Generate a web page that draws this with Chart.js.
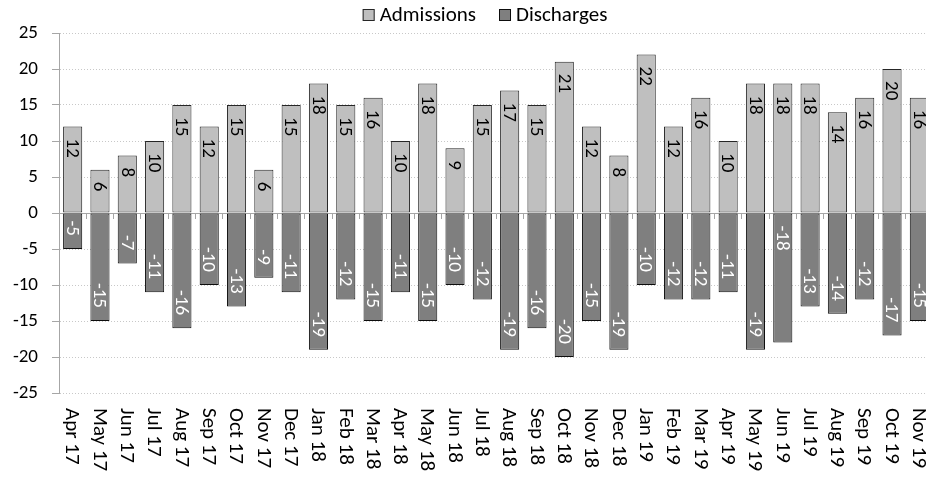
<!DOCTYPE html>
<html>
<head>
<meta charset="utf-8">
<script src="https://cdn.jsdelivr.net/npm/chart.js@4.4.1/dist/chart.umd.min.js"></script>
<style>
  html, body { margin: 0; padding: 0; background: #fff; overflow: hidden; }
  #wrap { width: 940px; height: 479px; }
</style>
</head>
<body>
<div id="wrap"><canvas id="flow-chart" width="940" height="479"></canvas></div>
<script>
// months shown along the bottom
var months = ["Apr 17", "May 17", "Jun 17", "Jul 17", "Aug 17", "Sep 17", "Oct 17", "Nov 17", "Dec 17",
    "Jan 18", "Feb 18", "Mar 18", "Apr 18", "May 18", "Jun 18", "Jul 18", "Aug 18", "Sep 18", "Oct 18", "Nov 18", "Dec 18",
    "Jan 19", "Feb 19", "Mar 19", "Apr 19", "May 19", "Jun 19", "Jul 19", "Aug 19", "Sep 19", "Oct 19", "Nov 19"];

var admissions = [12, 6, 8, 10, 15, 12, 15, 6, 15, 18, 15, 16, 10, 18, 9, 15, 17, 15, 21, 12, 8, 22, 12, 16, 10, 18, 18, 18, 14, 16, 20, 16];
var discharges = [-5, -15, -7, -11, -16, -10, -13, -9, -11, -19, -12, -15, -11, -15, -10, -12, -19, -16, -20, -15, -19, -10, -12, -12, -11, -19, -18, -13, -14, -12, -17, -15];

// y axis ticks
var yMin = -25, yMax = 25, yStep = 5;

// discharge labels that sit next to the zero line instead of the bar end
var baseLabelMonths = ["Jun 19"];

var FONT = "Carlito, Calibri, Lato, sans-serif";
var NUM_SIZE = 19;   // digits (ticks + bar values)
var TEXT_SIZE = 21;  // words (legend + months)

// value labels, rotated to read downwards, inside the end of every bar
var barLabels = {
    id: 'barLabels',
    afterDatasetsDraw: function (chart) {
        var ctx = chart.ctx;
        ctx.save();
        ctx.font = NUM_SIZE + "px " + FONT;
        ctx.textBaseline = "middle";
        chart.data.datasets.forEach(function (ds, di) {
            var meta = chart.getDatasetMeta(di);
            meta.data.forEach(function (bar, i) {
                var v = ds.data[i];
                ctx.save();
                ctx.fillStyle = ds.labelColor;
                if (v >= 0) {
                    ctx.translate(bar.x, bar.y + 12);
                    ctx.rotate(Math.PI / 2);
                    ctx.textAlign = "left";
                } else if (baseLabelMonths.indexOf(chart.data.labels[i]) >= 0) {
                    ctx.translate(bar.x, bar.base + 12);
                    ctx.rotate(Math.PI / 2);
                    ctx.textAlign = "left";
                } else {
                    ctx.translate(bar.x, bar.y - 13);
                    ctx.rotate(Math.PI / 2);
                    ctx.textAlign = "right";
                }
                ctx.fillText(String(v), 0, 1);
                ctx.restore();
            });
        });
        ctx.restore();
    }
};

// month names under the plot, reading top to bottom
var monthLabels = {
    id: 'monthLabels',
    afterDraw: function (chart) {
        var ctx = chart.ctx;
        var x = chart.scales.x;
        var top = chart.scales.y.bottom + 15;
        ctx.save();
        ctx.font = TEXT_SIZE + "px " + FONT;
        ctx.fillStyle = "#000";
        ctx.textBaseline = "middle";
        ctx.textAlign = "left";
        chart.data.labels.forEach(function (lbl, i) {
            ctx.save();
            ctx.translate(x.getPixelForValue(i), top);
            ctx.rotate(Math.PI / 2);
            ctx.fillText(lbl, 0, 1);
            ctx.restore();
        });
        ctx.restore();
    }
};

// legend row at the top
var topLegend = {
    id: 'topLegend',
    afterDraw: function (chart) {
        var ctx = chart.ctx;
        var box = 12, gap = 5, space = 23, cy = 15;
        ctx.save();
        ctx.font = TEXT_SIZE + "px " + FONT;
        ctx.textBaseline = "middle";
        ctx.textAlign = "left";
        var sets = chart.data.datasets;
        var total = 0;
        sets.forEach(function (ds, i) {
            total += box + gap + ctx.measureText(ds.label).width + (i ? space : 0);
        });
        var x = 485 - total / 2;
        sets.forEach(function (ds) {
            ctx.fillStyle = ds.backgroundColor;
            ctx.strokeStyle = ds.borderColor;
            ctx.lineWidth = 1;
            ctx.fillRect(x, cy - box / 2, box, box);
            ctx.strokeRect(x + 0.5, cy - box / 2 + 0.5, box - 1, box - 1);
            x += box + gap;
            ctx.fillStyle = "#000";
            ctx.fillText(ds.label, x, cy + 1);
            x += ctx.measureText(ds.label).width + space;
        });
        ctx.restore();
    }
};

new Chart(document.getElementById("flow-chart"), {
    type: 'bar',
    data: {
        labels: months,
        datasets: [
            {
                label: "Admissions",
                data: admissions,
                backgroundColor: "#bfbfbf",
                borderColor: "#262626",
                labelColor: "#000",
                borderWidth: 1,
                borderSkipped: false
            },
            {
                label: "Discharges",
                data: discharges,
                backgroundColor: "#7f7f7f",
                borderColor: "#0d0d0d",
                labelColor: "#fff",
                borderWidth: 1,
                borderSkipped: false
            }
        ]
    },
    options: {
        responsive: false,
        animation: false,
        events: [],
        datasets: {
            bar: { categoryPercentage: 0.7, barPercentage: 1 }
        },
        layout: { padding: { top: 33, right: 7, left: 0, bottom: 86 } },
        plugins: {
            legend: { display: false },
            tooltip: { enabled: false }
        },
        scales: {
            x: {
                stacked: true,
                position: { y: 0 },
                ticks: { display: false },
                grid: {
                    offset: true,
                    drawOnChartArea: false,
                    drawTicks: true,
                    tickLength: 5,
                    tickColor: "#a6a6a6"
                },
                border: { display: true, color: "#a6a6a6", width: 1 }
            },
            y: {
                stacked: true,
                min: yMin,
                max: yMax,
                ticks: {
                    stepSize: yStep,
                    color: "#000",
                    padding: 14,
                    font: { family: FONT, size: NUM_SIZE }
                },
                grid: {
                    color: "#c8c8c8",
                    tickColor: "#a6a6a6",
                    tickLength: 7,
                    tickBorderDash: [],
                    lineWidth: 1
                },
                border: { display: true, color: "#a6a6a6", dash: [1, 2] },
                afterFit: function (s) { s.width = 59; }
            }
        }
    },
    plugins: [barLabels, monthLabels, topLegend]
});
</script>
</body>
</html>
